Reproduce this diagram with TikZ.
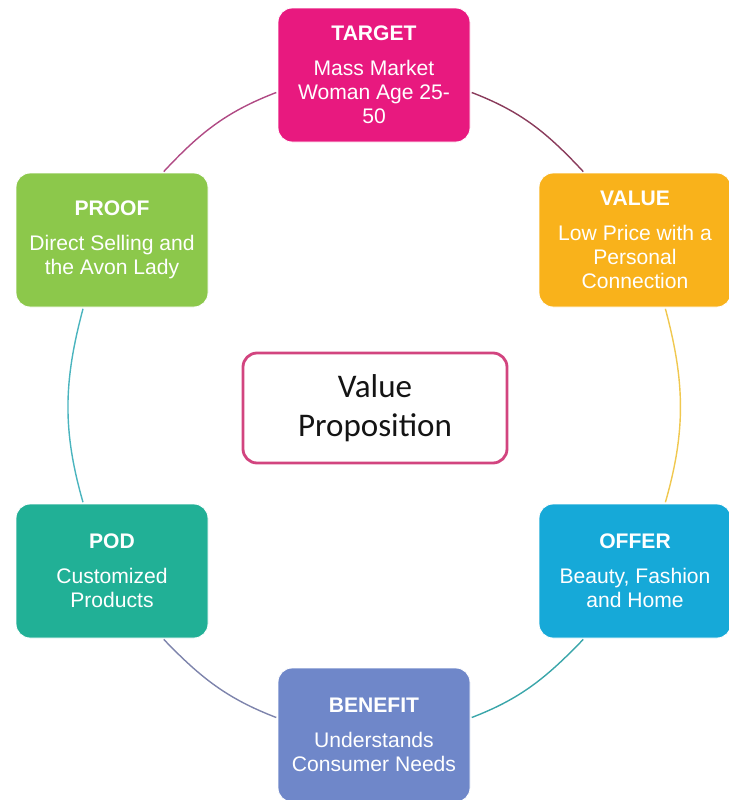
\documentclass[tikz,border=0pt]{standalone}
\usepackage{fontspec}
\setmainfont{Liberation Sans}
\newfontfamily\hubfont{Carlito}
\usetikzlibrary{arrows.meta, positioning}
\definecolor{vppink}{HTML}{E8197F}
\definecolor{vpamber}{HTML}{F9B21B}
\definecolor{vpcyan}{HTML}{16A9D8}
\definecolor{vpindigo}{HTML}{6F87C9}
\definecolor{vpteal}{HTML}{21B096}
\definecolor{vpgreen}{HTML}{8CC84B}
\definecolor{vphub}{HTML}{D2447F}
\definecolor{vpdark}{HTML}{141414}
\definecolor{vpmauve}{HTML}{B04A84}
\definecolor{vpplum}{HTML}{8A3C5C}
\definecolor{vpsun}{HTML}{F0C850}
\definecolor{vpsea}{HTML}{3AA6AA}
\definecolor{vpslate}{HTML}{7E84AC}
\definecolor{vplagoon}{HTML}{4AB4BE}
\tikzset{
  card/.style={rectangle, rounded corners=10pt, minimum width=4.8cm, minimum height=3.35cm,
    draw=white, line width=0.6pt, text=white, align=center, font=\fontsize{15}{17}\selectfont},
  hub/.style={rectangle, rounded corners=10pt, minimum width=6.6cm, minimum height=2.75cm,
    draw=vphub, line width=2pt, fill=white, align=center, text=vpdark,
    font=\hubfont\fontsize{23.5}{28}\selectfont},
  ring/.style={line width=1pt, shorten <=1pt, shorten >=1pt},
}

\begin{document}
\begin{tikzpicture}
    \useasboundingbox (0,0) rectangle (18.2,-20);
    % Centre
    \node[hub] (vp) at (9.375,-10.2) {Value\\Proposition};
    % Cards round the ring
    \node[card, fill=vppink] (target) at (9.35,-1.875) {\textbf{TARGET}\\[8pt]Mass Market\\Woman Age 25-\\50};
    \node[card, fill=vpamber] (value) at (15.875,-6.0) {\textbf{VALUE}\\[8pt]Low Price with a\\Personal\\Connection};
    \node[card, fill=vpcyan] (offer) at (15.875,-14.275) {\textbf{OFFER}\\[8pt]Beauty, Fashion\\and Home};
    \node[card, fill=vpindigo] (benefit) at (9.35,-18.375) {\textbf{BENEFIT}\\[8pt]Understands\\Consumer Needs};
    \node[card, fill=vpteal] (pod) at (2.8,-14.275) {\textbf{POD}\\[8pt]Customized\\Products};
    \node[card, fill=vpgreen] (proof) at (2.8,-6.0) {\textbf{PROOF}\\[8pt]Direct Selling and\\the Avon Lady};

    % Ring
    \draw[ring, vpmauve] (proof.53) to[out=47, in=201] (target.190);
    \draw[ring, vpplum] (target.350) to[out=-21, in=133] (value.127);
    \draw[ring, vpsun] (value.294) to[out=-75, in=74] (offer.66);
    \draw[ring, vpsea] (offer.233) to[out=226, in=21] (benefit.10);
    \draw[ring, vpslate] (benefit.170) to[out=159, in=-46] (pod.307);
    \draw[ring, vplagoon] (pod.113) to[out=106, in=255] (proof.247);
\end{tikzpicture}
\end{document}
